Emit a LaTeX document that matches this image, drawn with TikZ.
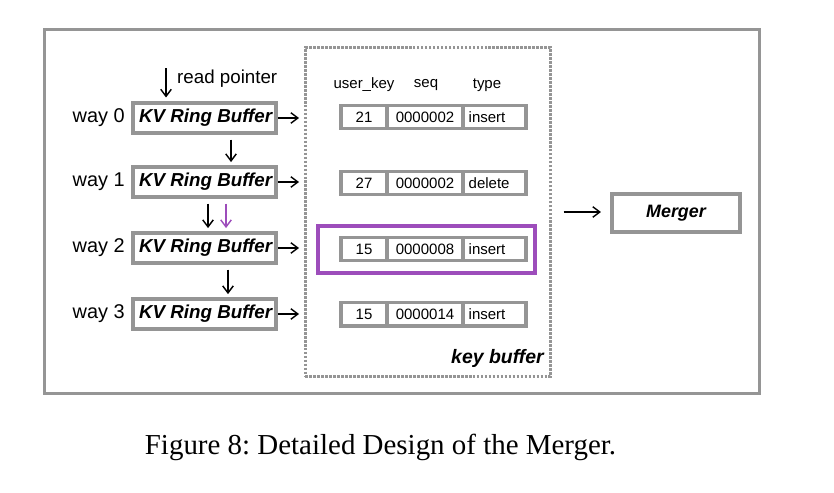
\documentclass[tikz,border=0pt]{standalone}
\usepackage{fontspec}
\setmainfont{Liberation Sans}
\newfontfamily\capfont{Liberation Serif}
\usetikzlibrary{arrows.meta, calc, positioning}
\definecolor{boxgray}{HTML}{959595}
\definecolor{hlpurple}{HTML}{9D4DBB}
\frenchspacing
\tikzset{
    arr/.style={-{Straight Barb[length=6pt,width=9pt]}, line width=1.2pt, black},
    downarr/.style={arr, shorten <=4pt, shorten >=2.5pt},
    rbuf/.style={draw=boxgray, line width=3.4pt, fill=white, inner sep=0pt,
        minimum width=4.29cm, minimum height=0.9cm,
        font=\fontsize{16}{18}\selectfont\bfseries\itshape},
    wlbl/.style={inner sep=0pt, font=\fontsize{17}{19}\selectfont},
    hdr/.style={inner sep=0pt, font=\fontsize{12.8}{15}\selectfont},
    cell/.style={draw=boxgray, line width=3.4pt, fill=white, outer sep=0pt, inner sep=0pt,
        minimum height=0.69cm, font=\fontsize{12.8}{15}\selectfont},
    kcell/.style={cell, minimum width=1.38cm},
    scell/.style={cell, minimum width=2.28cm},
    tcell/.style={cell, text width=1.55cm, inner xsep=0.17cm, align=left},
    kbox/.style={draw=boxgray, line width=2.6pt, dash pattern=on 2.3pt off 1.1pt,
        minimum width=7.35cm, minimum height=9.87cm, inner sep=0pt},
    hlbox/.style={draw=hlpurple, line width=3pt, minimum width=6.51cm, minimum height=1.41cm, inner sep=0pt},
    mgbox/.style={draw=boxgray, line width=3.4pt, fill=white, inner sep=0pt,
        minimum width=3.84cm, minimum height=1.14cm,
        font=\fontsize{15.3}{18}\selectfont\bfseries\itshape}
}
\begin{document}
\begin{tikzpicture}[x=0.03cm, y=-0.03cm]
    \useasboundingbox (0,0) rectangle (834,492);
    \draw[boxgray, line width=2.6pt] (44.5,29.5) rectangle (759.5,393.5);
    % ring buffers of the four ways
    \foreach \i/\y in {0/118, 1/182, 2/248, 3/314}{
    \node[rbuf] (rb\i) at (204.5,\y) {\hspace{2pt}KV Ring Buffer};
    \node[wlbl, left=0.18cm of rb\i] (w\i) {way \i};
    }
    \coordinate (rp) at (166,68);
    \draw[arr, shorten >=3pt] (rp) -- (rp |- rb0.north);
    \node[wlbl, font=\fontsize{16}{18}\selectfont, anchor=west] (rpl) at ($(rp)+(11,11)$) {read pointer};
    \draw[downarr] ($(rb0.south)+(26.5,0)$) -- ($(rb1.north)+(26.5,0)$);
    \draw[downarr] ($(rb1.south)+(3.5,0)$) -- ($(rb2.north)+(3.5,0)$);
    \draw[downarr, hlpurple] ($(rb1.south)+(21.5,0)$) -- ($(rb2.north)+(21.5,0)$);
    \draw[downarr] ($(rb2.south)+(23.5,0)$) -- ($(rb3.north)+(23.5,0)$);
    % key buffer
    \node[kbox] (kb) at (428,212) {};
    \node[hlbox] (hl) at (426.5,249.5) {};
    \node[hdr] (hk) at (364,85) {user\_key};
    \node[hdr] (hs) at (426,85) {seq};
    \node[hdr] (ht) at (487,85) {type};
    \foreach \i/\y/\k/\s/\t in {0/117/21/0000002/insert, 1/183/27/0000002/delete, 2/249/15/0000008/insert, 3/314/15/0000014/insert}{
    \node[kcell] (k\i) at (364,\y) {\k};
    \node[scell, right=0pt of k\i] (s\i) {\s};
    \node[tcell, right=0pt of s\i] (t\i) {\t};
    \draw[arr, shorten >=4.2pt] (rb\i.east) -- (rb\i.east -| kb.west);
    }
    \node[wlbl, font=\fontsize{16.6}{18}\selectfont\bfseries\itshape, anchor=east] (kbl)
        at ($(kb.south east)+(-8,-20)$) {key buffer};
    % merger
    \node[mgbox] (mg) at (676,213) {Merger};
    \draw[arr, shorten <=10pt, shorten >=7.7pt] (kb.east) -- (kb.east -| mg.west);
    \node[inner sep=0pt, font=\capfont\fontsize{24.7}{28}\selectfont] (cap) at (380.5,447)
        {Figure 8: Detailed Design of the Merger.};
\end{tikzpicture}
\end{document}
